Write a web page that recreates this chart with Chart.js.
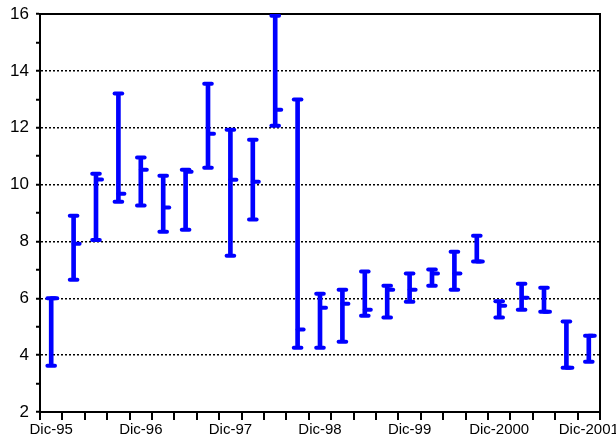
<!DOCTYPE html>
<html>
<head>
<meta charset="utf-8">
<script src="https://cdn.jsdelivr.net/npm/chart.js@4/dist/chart.umd.min.js"></script>
<style>
  html, body { margin: 0; padding: 0; background: #ffffff; }
  #wrap { width: 616px; height: 439px; }
</style>
</head>
<body>
<div id="wrap"><canvas id="c" width="616" height="439"></canvas></div>
<script>
// Quarterly categories (labels shown every 4th: December of each year)
const categories = [
  'Dic-95', 'Mar-96', 'Jun-96', 'Sep-96',
  'Dic-96', 'Mar-97', 'Jun-97', 'Sep-97',
  'Dic-97', 'Mar-98', 'Jun-98', 'Sep-98',
  'Dic-98', 'Mar-99', 'Jun-99', 'Sep-99',
  'Dic-99', 'Mar-2000', 'Jun-2000', 'Sep-2000',
  'Dic-2000', 'Mar-2001', 'Jun-2001', 'Sep-2001',
  'Dic-2001'
];
const highValues  = [6.00, 8.90, 10.38, 13.20, 10.95, 10.31, 10.52, 13.55, 11.93, 11.58, 15.94, 12.99, 6.16, 6.30, 6.94, 6.44, 6.87, 7.01, 7.64, 8.20, 5.90, 6.51, 6.37, 5.18, 4.68];
const lowValues   = [3.63, 6.65, 8.05, 9.40, 9.26, 8.34, 8.41, 10.59, 7.50, 8.77, 12.07, 4.26, 4.26, 4.47, 5.39, 5.32, 5.88, 6.44, 6.30, 7.29, 5.32, 5.60, 5.53, 3.56, 3.77];
const closeValues = [6.00, 7.92, 10.18, 9.68, 10.52, 9.19, 10.45, 11.79, 10.17, 10.10, 12.63, 4.90, 5.67, 5.81, 5.60, 6.30, 6.30, 6.87, 6.87, 7.29, 5.74, 6.02, 5.53, 3.56, 4.68];
const yMin = 2;
const yMax = 16;
const yLabelStep = 2;
const xLabelEvery = 4;

const BLUE = '#0000FF';
const BLACK = '#000000';

const ranges = categories.map((c, i) => [lowValues[i], highValues[i]]);

const roundCaps = {
  id: 'roundCaps',
  beforeDatasetDraw(chart) { chart.ctx.lineCap = 'round'; },
  afterDatasetDraw(chart) { chart.ctx.lineCap = 'butt'; }
};

const capPoint = (data, style, radius, order) => ({
  type: 'line',
  data: data,
  showLine: false,
  pointStyle: style,
  pointRadius: radius,
  pointBorderWidth: 4,
  pointBorderColor: BLUE,
  pointBackgroundColor: BLUE,
  borderColor: BLUE,
  backgroundColor: BLUE,
  order: order
});

const noPad = (s) => { s.paddingLeft = 0; s.paddingRight = 0; s.paddingTop = 0; s.paddingBottom = 0; };

new Chart(document.getElementById('c'), {
  type: 'bar',
  data: {
    labels: categories,
    datasets: [
      { type: 'bar', data: ranges, backgroundColor: BLUE, borderWidth: 0, barThickness: 4, order: 5 },
      capPoint(highValues, 'line', 3.8, 3),
      capPoint(lowValues, 'line', 3.8, 2),
      capPoint(closeValues, 'dash', 6, 1)
    ]
  },
  options: {
    responsive: false,
    devicePixelRatio: 1,
    animation: false,
    events: [],
    layout: { padding: { left: 0, right: 16, top: 14, bottom: 0 } },
    plugins: { legend: { display: false }, tooltip: { enabled: false }, title: { display: false } },
    scales: {
      x: {
        type: 'category', position: 'bottom', offset: true,
        grid: { offset: true, drawOnChartArea: false, drawTicks: true, tickLength: 8, color: BLACK, lineWidth: 2 },
        border: { display: true, color: BLACK, width: 2 },
        ticks: {
          autoSkip: false, maxRotation: 0, minRotation: 0, padding: 1, color: BLACK,
          font: { family: "'Liberation Sans', Arial, sans-serif", size: 15 },
          callback: (v, i) => (i % xLabelEvery === 0 ? categories[i] : '')
        },
        afterFit: (s) => { s.height = 27; noPad(s); }
      },
      x2: {
        type: 'category', position: 'top', offset: true,
        grid: { display: false, drawTicks: false }, ticks: { display: false },
        border: { display: true, color: BLACK, width: 2 },
        afterFit: (s) => { s.height = 0; noPad(s); }
      },
      y: {
        type: 'linear', position: 'left', min: yMin, max: yMax,
        ticks: {
          stepSize: 1, autoSkip: false, padding: 7, color: BLACK,
          font: { family: "'Liberation Sans', Arial, sans-serif", size: 17 },
          callback: (v) => (v % yLabelStep === 0 ? String(v) : '')
        },
        grid: {
          color: (ctx) => (ctx.tick && ctx.tick.value % yLabelStep === 0 ? BLACK : 'rgba(0,0,0,0)'),
          lineWidth: 1.5, tickColor: BLACK, tickWidth: 2, tickLength: 4, tickBorderDash: []
        },
        border: { display: true, color: BLACK, width: 2, dash: [2, 2] },
        afterFit: (s) => { s.width = 40; noPad(s); }
      },
      y2: {
        type: 'linear', position: 'right', min: yMin, max: yMax,
        grid: { display: false, drawTicks: false }, ticks: { display: false },
        border: { display: true, color: BLACK, width: 2 },
        afterFit: (s) => { s.width = 0; noPad(s); }
      }
    }
  },
  plugins: [roundCaps]
});
</script>
</body>
</html>
